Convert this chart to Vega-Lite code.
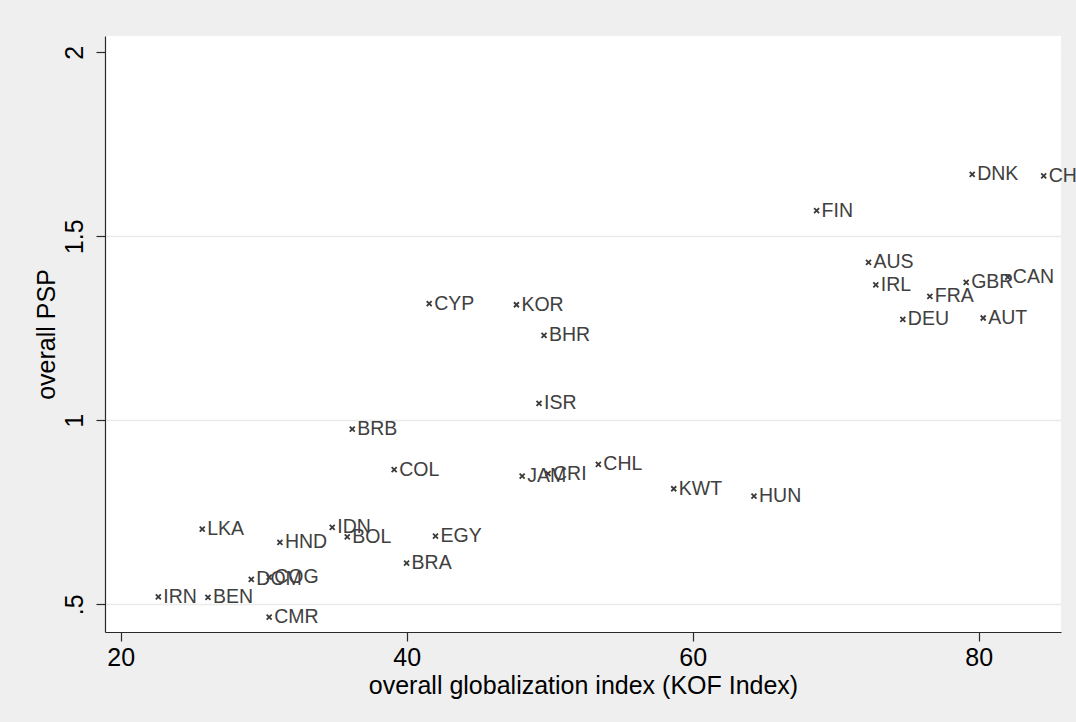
{
  "$schema": "https://vega.github.io/schema/vega-lite/v6.json",
  "autosize": {"type": "none"},
  "width": 956,
  "height": 596,
  "padding": {"left": 105, "top": 36, "right": 15, "bottom": 90},
  "background": "#EFEFEF",
  "config": {
    "view": {"fill": "white", "stroke": null},
    "font": "Liberation Sans",
    "axis": {
      "labelFont": "Liberation Sans",
      "titleFont": "Liberation Sans",
      "labelFontSize": 25,
      "titleFontSize": 25,
      "titleFontWeight": "normal",
      "labelColor": "black",
      "titleColor": "black",
      "domainColor": "#2a2a2a",
      "domainWidth": 1.2,
      "tickColor": "#2a2a2a",
      "tickWidth": 1.2,
      "tickSize": 9
    }
  },
  "data": {
    "values": [
      {"country": "IRN", "kof": 22.63, "psp": 0.520},
      {"country": "BEN", "kof": 26.10, "psp": 0.519},
      {"country": "LKA", "kof": 25.70, "psp": 0.704},
      {"country": "DOM", "kof": 29.13, "psp": 0.568},
      {"country": "COG", "kof": 30.38, "psp": 0.574},
      {"country": "CMR", "kof": 30.38, "psp": 0.465},
      {"country": "HND", "kof": 31.13, "psp": 0.668},
      {"country": "IDN", "kof": 34.79, "psp": 0.709},
      {"country": "BOL", "kof": 35.84, "psp": 0.683},
      {"country": "BRB", "kof": 36.19, "psp": 0.976},
      {"country": "COL", "kof": 39.12, "psp": 0.866},
      {"country": "BRA", "kof": 39.99, "psp": 0.612},
      {"country": "EGY", "kof": 42.01, "psp": 0.685},
      {"country": "CYP", "kof": 41.57, "psp": 1.317},
      {"country": "KOR", "kof": 47.67, "psp": 1.314},
      {"country": "JAM", "kof": 48.07, "psp": 0.848},
      {"country": "ISR", "kof": 49.25, "psp": 1.046},
      {"country": "BHR", "kof": 49.60, "psp": 1.231},
      {"country": "CRI", "kof": 49.88, "psp": 0.855},
      {"country": "CHL", "kof": 53.40, "psp": 0.880},
      {"country": "KWT", "kof": 58.67, "psp": 0.814},
      {"country": "HUN", "kof": 64.28, "psp": 0.794},
      {"country": "FIN", "kof": 68.66, "psp": 1.570},
      {"country": "AUS", "kof": 72.29, "psp": 1.429},
      {"country": "IRL", "kof": 72.80, "psp": 1.368},
      {"country": "DEU", "kof": 74.69, "psp": 1.274},
      {"country": "FRA", "kof": 76.58, "psp": 1.337},
      {"country": "GBR", "kof": 79.12, "psp": 1.375},
      {"country": "DNK", "kof": 79.54, "psp": 1.668},
      {"country": "AUT", "kof": 80.31, "psp": 1.278},
      {"country": "CAN", "kof": 82.03, "psp": 1.389},
      {"country": "CHE", "kof": 84.54, "psp": 1.664}
    ]
  },
  "encoding": {
    "x": {
      "field": "kof",
      "type": "quantitative",
      "scale": {"domain": [18.9, 85.75], "nice": false, "zero": false},
      "axis": {
        "title": "overall globalization index (KOF Index)",
        "values": [20, 40, 60, 80],
        "grid": false,
        "labelPadding": 4,
        "titlePadding": 3
      }
    },
    "y": {
      "field": "psp",
      "type": "quantitative",
      "scale": {"domain": [0.4247, 2.0443], "nice": false, "zero": false},
      "axis": {
        "title": "overall PSP",
        "values": [0.5, 1, 1.5, 2],
        "labelExpr": "datum.value < 1 ? '.5' : format(datum.value, '~g')",
        "labelAngle": -90,
        "labelAlign": "center",
        "labelBaseline": "alphabetic",
        "labelPadding": 14,
        "titlePadding": 3,
        "grid": true,
        "gridColor": {"condition": {"test": "datum.value == 2", "value": "white"}, "value": "#EAEAEA"},
        "gridWidth": 1.5
      }
    }
  },
  "layer": [
    {
      "mark": {
        "type": "point",
        "shape": "M-1,-1L1,1M-1,1L1,-1",
        "filled": false,
        "size": 25,
        "strokeWidth": 1.8,
        "color": "#3a3a3a",
        "opacity": 1,
        "clip": true
      }
    },
    {
      "mark": {
        "type": "text",
        "align": "left",
        "baseline": "middle",
        "dx": 5,
        "fontSize": 19.5,
        "font": "Liberation Sans",
        "color": "#404040",
        "clip": false
      },
      "encoding": {"text": {"field": "country"}}
    }
  ]
}
